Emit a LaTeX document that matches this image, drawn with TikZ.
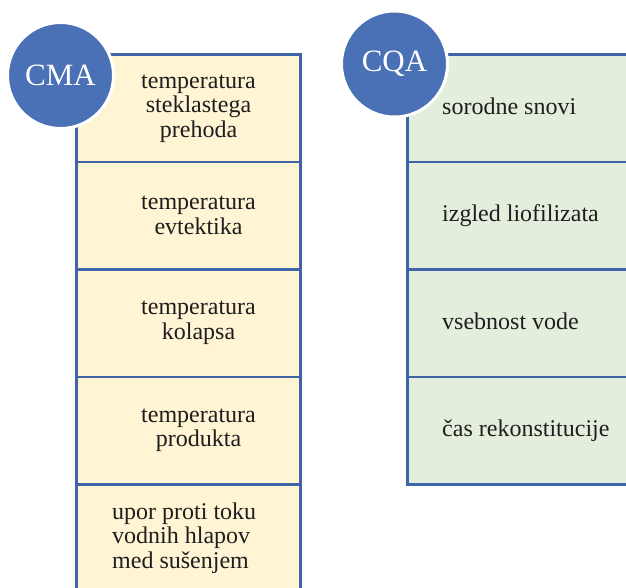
\documentclass[tikz,border=0pt]{standalone}
\usepackage{fontspec}
\setmainfont{Liberation Serif}
\definecolor{bordc}{HTML}{3F64A8}
\definecolor{yellowc}{HTML}{FFF4D4}
\definecolor{greenc}{HTML}{E3EFDC}
\definecolor{circc}{HTML}{4A70B6}
\definecolor{txtc}{HTML}{1E1E1E}
\begin{document}
\begin{tikzpicture}[x=1pt,y=-1pt,
  lcell/.style={draw=bordc, line width=2.5pt, fill=yellowc, minimum width=224pt, minimum height=107.5pt, inner sep=0pt, anchor=north west},
  rcell/.style={draw=bordc, line width=2.5pt, fill=greenc, minimum width=234pt, minimum height=107.5pt, inner sep=0pt, anchor=north west},
  lbl/.style={font=\fontsize{24}{24.5}\selectfont, inner sep=0pt, text=txtc},
  badge/.style={circle, fill=circc, draw=white, line width=3pt, minimum size=106pt, inner sep=0pt, text=white, font=\fontsize{31}{31}\selectfont}]
\useasboundingbox (0,0) rectangle (626,587);
\clip (0,0) rectangle (626,587);
% left column
\node[lcell] (l1) at (75,53) {};
\node[lcell] (l2) at (75,160.5) {};
\node[lcell] (l3) at (75,268) {};
\node[lcell] (l4) at (75,375.5) {};
\node[lcell] (l5) at (75,483) {};
% right column
\node[rcell] (r1) at (406,53) {};
\node[rcell] (r2) at (406,160.5) {};
\node[rcell] (r3) at (406,268) {};
\node[rcell] (r4) at (406,375.5) {};
% left texts
\node[lbl, align=center] (t1) at (198.5,108.5) {temperatura\\steklastega\\prehoda};
\node[lbl, align=center] (t2) at (198.5,215.5) {temperatura\\evtektika};
\node[lbl, align=center] (t3) at (198.5,323) {temperatura\\kolapsa};
\node[lbl, align=center] (t4) at (198.5,430.5) {temperatura\\produkta};
\node[lbl, align=left, anchor=west] (t5) at (112,538) {upor proti toku\\vodnih hlapov\\med sušenjem};
% right texts
\node[lbl, anchor=base west] (s1) at (442,114) {sorodne snovi};
\node[lbl, anchor=base west] (s2) at (442,221.5) {izgled liofilizata};
\node[lbl, anchor=base west] (s3) at (442,329) {vsebnost vode};
\node[lbl, anchor=base west] (s4) at (442,436.5) {čas rekonstitucije};
% badges
\node[badge] (cma) at (60.5,75.5) {CMA};
\node[badge] (cqa) at (394.5,64) {CQA};
\end{tikzpicture}
\end{document}
